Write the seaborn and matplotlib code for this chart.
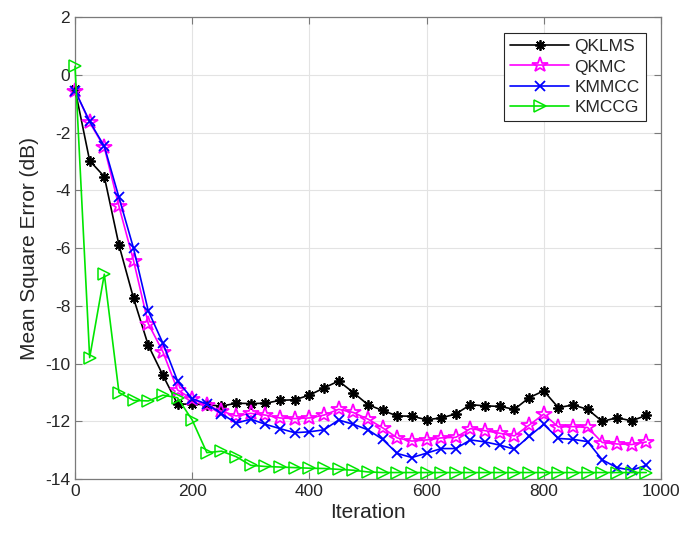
import numpy as np
import pandas as pd
import seaborn as sns
import matplotlib.pyplot as plt

# Iterations (one marker every 25 samples)
iterations = list(range(0, 1000, 25))

qklms = [-0.49, -2.97, -3.52, -5.89, -7.74, -9.36, -10.40, -11.40, -11.40, -11.42,
         -11.47, -11.37, -11.38, -11.37, -11.27, -11.25, -11.09, -10.84, -10.60, -11.00,
         -11.42, -11.62, -11.81, -11.82, -11.94, -11.88, -11.74, -11.42, -11.46, -11.48,
         -11.58, -11.18, -10.94, -11.52, -11.43, -11.58, -12.00, -11.87, -11.98, -11.79]

qkmc = [-0.54, -1.64, -2.51, -4.55, -6.44, -8.61, -9.59, -10.91, -11.23, -11.44,
        -11.64, -11.81, -11.72, -11.78, -11.88, -11.90, -11.88, -11.78, -11.58, -11.69,
        -11.92, -12.22, -12.57, -12.68, -12.64, -12.57, -12.55, -12.25, -12.32, -12.41,
        -12.50, -12.13, -11.75, -12.19, -12.18, -12.21, -12.73, -12.78, -12.80, -12.71]

kmmcc = [-0.54, -1.61, -2.47, -4.24, -6.01, -8.17, -9.29, -10.60, -11.21, -11.40,
         -11.73, -12.06, -11.92, -12.10, -12.25, -12.39, -12.36, -12.29, -11.95, -12.10,
         -12.29, -12.62, -13.11, -13.25, -13.10, -12.94, -12.94, -12.64, -12.71, -12.82,
         -12.96, -12.52, -12.10, -12.59, -12.62, -12.70, -13.33, -13.60, -13.69, -13.52]

kmccg = [0.30, -9.79, -6.90, -11.00, -11.27, -11.29, -11.09, -11.18, -11.95, -13.08,
         -13.03, -13.22, -13.52, -13.56, -13.58, -13.60, -13.62, -13.63, -13.66, -13.69,
         -13.75, -13.77, -13.77, -13.77, -13.77, -13.77, -13.77, -13.77, -13.77, -13.77,
         -13.77, -13.77, -13.77, -13.77, -13.77, -13.77, -13.77, -13.77, -13.77, -13.77]

sns.set_theme(style="whitegrid")
plt.rcParams["font.family"] = ["Liberation Sans", "DejaVu Sans"]
plt.rcParams["axes.unicode_minus"] = False

fig = plt.figure(figsize=(6.82, 5.39), dpi=100)
ax = fig.add_axes([0.110, 0.111, 0.859, 0.857])

series = [
    ("QKLMS", qklms, "black", dict(marker=(8, 2, 0), markersize=7.5, markeredgewidth=1.3)),
    ("QKMC", qkmc, "#ff00ff", dict(marker="*", markersize=11.5, markerfacecolor="none", markeredgewidth=1.3)),
    ("KMMCC", kmmcc, "#0000ff", dict(marker="x", markersize=6.5, markeredgewidth=1.3)),
    ("KMCCG", kmccg, "#00e600", dict(marker=">", markersize=8.5, markerfacecolor="none", markeredgewidth=1.1)),
]

for name, vals, color, mk in series:
    df = pd.DataFrame({"Iteration": iterations, "MSE": vals})
    sns.lineplot(data=df, x="Iteration", y="MSE", ax=ax, color=color, linewidth=1.2,
                 markeredgecolor=color, label=name, clip_on=False, zorder=3, **mk)

ax.set_xlim(0, 1000)
ax.set_ylim(-14, 2)
ax.set_xticks(np.arange(0, 1001, 200))
ax.set_yticks(np.arange(-14, 3, 2))
ax.set_xlabel("Iteration", fontsize=15, color="#262626", labelpad=3)
ax.set_ylabel("Mean Square Error (dB)", fontsize=15, color="#262626", labelpad=4)

ax.grid(True, color="#e3e3e3", linewidth=0.8)
ax.set_axisbelow(True)
for s in ax.spines.values():
    s.set_color("#7a7a7a")
    s.set_linewidth(0.9)
ax.tick_params(direction="in", length=5, width=0.8, color="#7a7a7a", labelsize=12.5,
               labelcolor="#262626", top=True, right=True, bottom=True, left=True)
ax.set_facecolor("white")

leg = ax.legend(loc="upper right", bbox_to_anchor=(0.974, 0.966), borderaxespad=0,
                fontsize=12.5, frameon=True, fancybox=False, framealpha=1, borderpad=0.35,
                labelspacing=0.3, handlelength=3.4, handletextpad=0.3)
leg.get_frame().set_edgecolor("#262626")
leg.get_frame().set_linewidth(0.8)
leg.set_zorder(5)

plt.savefig("out.png", dpi=100)
